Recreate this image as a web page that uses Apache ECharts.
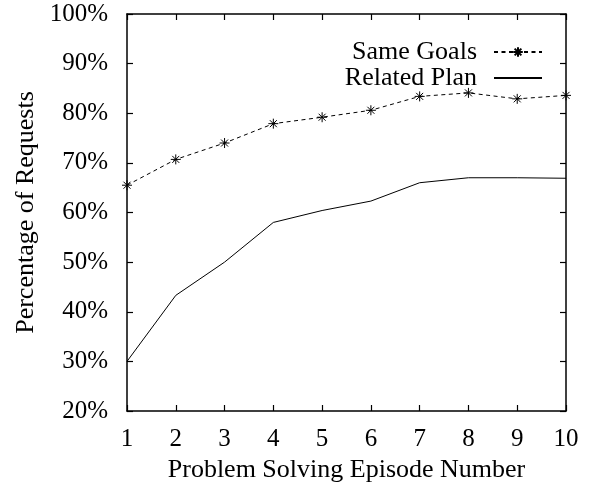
<!DOCTYPE html>
<html>
<head>
<meta charset="utf-8">
<script src="https://cdn.jsdelivr.net/npm/echarts@6/dist/echarts.min.js"></script>
<style>
  html, body { margin: 0; padding: 0; background: #fff; }
  #chart { width: 590px; height: 482px; }
</style>
</head>
<body>
<div id="chart"></div>
<script>
// Episode numbers along the x axis
const episodes = [1, 2, 3, 4, 5, 6, 7, 8, 9, 10];
// Percentage of requests per episode
const sameGoals = [65.5, 70.7, 74.0, 77.9, 79.2, 80.6, 83.4, 84.1, 82.9, 83.6];
const relatedPlan = [30.0, 43.3, 50.0, 58.0, 60.4, 62.3, 66.0, 67.0, 67.0, 66.9];
const seriesNames = ['Same Goals', 'Related Plan'];

const FONT = 'Liberation Serif';
// Asterisk marker: plus and cross strokes
const asterisk = 'path://M0,-10L0,10M-10,0L10,0M-7,-7L7,7M-7,7L7,-7';

const chart = echarts.init(document.getElementById('chart'));

const frameAxis = {
  axisLine: { show: true, lineStyle: { color: '#000', width: 1.5 } },
  axisTick: { show: true, inside: true, length: 6, lineStyle: { color: '#000', width: 1.2 } },
  splitLine: { show: false }
};

chart.setOption({
  animation: false,
  backgroundColor: '#fff',
  grid: { left: 127, right: 24, top: 14, bottom: 71, containLabel: false, outerBoundsMode: 'none' },
  legend: {
    orient: 'vertical',
    align: 'right',
    right: 42,
    top: 34,
    itemGap: 0,
    itemWidth: 48,
    itemHeight: 12,
    textStyle: { fontFamily: FONT, fontSize: 26, color: '#000', padding: [0, 12, 0, 0] },
    data: [
      { name: seriesNames[0] },
      { name: seriesNames[1], itemStyle: { opacity: 0 } }
    ]
  },
  xAxis: [
    Object.assign({
      type: 'value', min: 1, max: 10, interval: 1, position: 'bottom',
      name: 'Problem Solving Episode Number', nameLocation: 'middle', nameGap: 38,
      nameTextStyle: { fontFamily: FONT, fontSize: 26, color: '#000' },
      axisLabel: { fontFamily: FONT, fontSize: 25, color: '#000', margin: 16 }
    }, frameAxis),
    Object.assign({
      type: 'value', min: 1, max: 10, interval: 1, position: 'top',
      axisLabel: { show: false }
    }, frameAxis)
  ],
  yAxis: [
    Object.assign({
      type: 'value', min: 20, max: 100, interval: 10, position: 'left',
      name: 'Percentage of Requests', nameLocation: 'middle', nameGap: 85,
      nameTextStyle: { fontFamily: FONT, fontSize: 26, color: '#000' },
      axisLabel: { fontFamily: FONT, fontSize: 25, color: '#000', margin: 19, formatter: '{value}%' }
    }, frameAxis),
    Object.assign({
      type: 'value', min: 20, max: 100, interval: 10, position: 'right',
      axisLabel: { show: false }
    }, frameAxis)
  ],
  series: [
    {
      name: seriesNames[0],
      type: 'line',
      data: episodes.map((e, i) => [e, sameGoals[i]]),
      symbol: asterisk,
      symbolSize: 10,
      showAllSymbol: true,
      lineStyle: { color: '#000', width: 1, type: [4, 3.5] },
      itemStyle: { color: '#000', borderColor: '#000', borderWidth: 1 }
    },
    {
      name: seriesNames[1],
      type: 'line',
      data: episodes.map((e, i) => [e, relatedPlan[i]]),
      symbol: 'none',
      lineStyle: { color: '#000', width: 1 },
      itemStyle: { color: '#000' }
    }
  ]
});
</script>
</body>
</html>
